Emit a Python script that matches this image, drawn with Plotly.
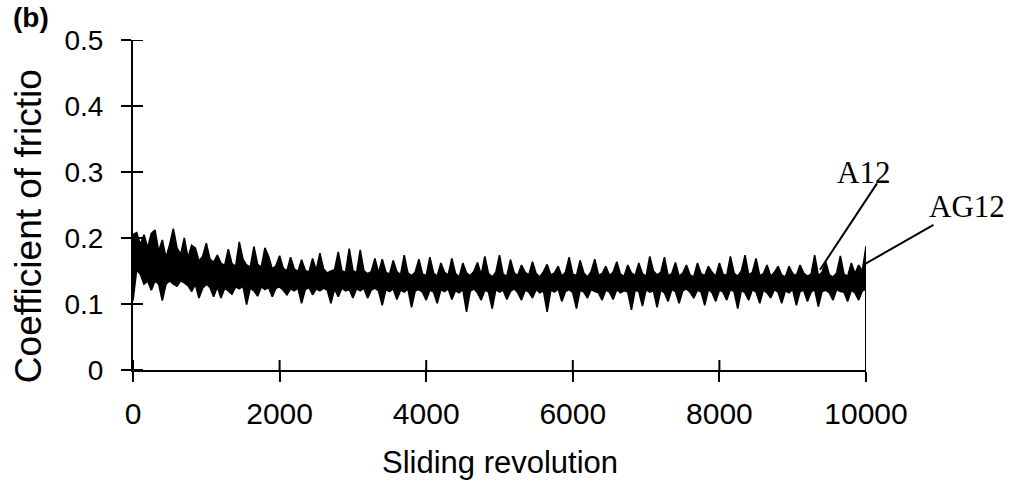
import plotly.graph_objects as go

# Sliding distance, sampled every 50 revolutions
revolutions = list(range(0, 10001, 50))

# Upper edge of the friction-coefficient band
cof_upper = [
    0.205, 0.208, 0.190, 0.205, 0.185, 0.207, 0.212, 0.180, 0.197, 0.170,
    0.190, 0.214, 0.185, 0.175, 0.200, 0.170, 0.189, 0.185, 0.165, 0.172,
    0.192, 0.168, 0.163, 0.174, 0.162, 0.158, 0.183, 0.161, 0.157, 0.194,
    0.168, 0.159, 0.156, 0.187, 0.160, 0.156, 0.185, 0.172, 0.153, 0.158,
    0.173, 0.154, 0.150, 0.171, 0.153, 0.149, 0.167, 0.151, 0.148, 0.169,
    0.151, 0.177, 0.153, 0.147, 0.150, 0.152, 0.179, 0.150, 0.148, 0.184,
    0.151, 0.147, 0.182, 0.150, 0.146, 0.149, 0.169, 0.147, 0.168, 0.148,
    0.145, 0.166, 0.149, 0.144, 0.174, 0.147, 0.143, 0.148, 0.168, 0.145,
    0.143, 0.171, 0.147, 0.142, 0.162, 0.148, 0.144, 0.169, 0.146, 0.141,
    0.162, 0.147, 0.143, 0.149, 0.163, 0.144, 0.172, 0.146, 0.141, 0.148,
    0.174, 0.145, 0.142, 0.167, 0.147, 0.143, 0.159, 0.148, 0.144, 0.164,
    0.146, 0.141, 0.149, 0.160, 0.144, 0.147, 0.157, 0.142, 0.148, 0.171,
    0.145, 0.143, 0.166, 0.147, 0.141, 0.149, 0.168, 0.144, 0.146, 0.157,
    0.143, 0.148, 0.164, 0.145, 0.142, 0.159, 0.147, 0.143, 0.162, 0.146,
    0.142, 0.172, 0.150, 0.144, 0.148, 0.171, 0.143, 0.146, 0.163, 0.142,
    0.147, 0.159, 0.144, 0.141, 0.162, 0.146, 0.143, 0.157, 0.148, 0.142,
    0.162, 0.145, 0.143, 0.172, 0.147, 0.142, 0.150, 0.174, 0.144, 0.148,
    0.169, 0.143, 0.146, 0.159, 0.142, 0.148, 0.157, 0.144, 0.141, 0.157,
    0.146, 0.143, 0.159, 0.147, 0.142, 0.145, 0.174, 0.143, 0.148, 0.164,
    0.144, 0.141, 0.147, 0.173, 0.145, 0.142, 0.162, 0.146, 0.159, 0.150,
    0.187,
]

# Lower edge of the friction-coefficient band
cof_lower = [
    0.105, 0.152, 0.145, 0.130, 0.135, 0.121, 0.135, 0.130, 0.105, 0.130,
    0.135, 0.130, 0.127, 0.135, 0.132, 0.128, 0.119, 0.130, 0.109, 0.124,
    0.130, 0.125, 0.111, 0.126, 0.109, 0.124, 0.120, 0.115, 0.126, 0.123,
    0.127, 0.099, 0.124, 0.120, 0.112, 0.126, 0.122, 0.125, 0.111, 0.124,
    0.126, 0.121, 0.114, 0.123, 0.120, 0.124, 0.101, 0.122, 0.125, 0.114,
    0.123, 0.120, 0.124, 0.121, 0.101, 0.123, 0.111, 0.124, 0.120, 0.122,
    0.109, 0.123, 0.120, 0.124, 0.109, 0.121, 0.124, 0.120, 0.098, 0.122,
    0.119, 0.123, 0.107, 0.121, 0.118, 0.123, 0.095, 0.120, 0.122, 0.118,
    0.106, 0.121, 0.118, 0.101, 0.122, 0.119, 0.123, 0.107, 0.120, 0.117,
    0.122, 0.088, 0.119, 0.123, 0.117, 0.106, 0.121, 0.118, 0.093, 0.122,
    0.118, 0.121, 0.107, 0.119, 0.123, 0.117, 0.106, 0.121, 0.118, 0.109,
    0.122, 0.117, 0.120, 0.088, 0.121, 0.118, 0.123, 0.104, 0.119, 0.122,
    0.117, 0.093, 0.121, 0.118, 0.109, 0.122, 0.119, 0.117, 0.106, 0.121,
    0.118, 0.107, 0.122, 0.117, 0.120, 0.118, 0.091, 0.121, 0.119, 0.097,
    0.122, 0.118, 0.120, 0.095, 0.121, 0.117, 0.104, 0.122, 0.119, 0.101,
    0.120, 0.123, 0.118, 0.109, 0.121, 0.118, 0.098, 0.122, 0.117, 0.104,
    0.121, 0.118, 0.106, 0.122, 0.119, 0.093, 0.121, 0.117, 0.106, 0.122,
    0.118, 0.101, 0.121, 0.117, 0.109, 0.122, 0.118, 0.101, 0.120, 0.117,
    0.122, 0.098, 0.119, 0.121, 0.104, 0.118, 0.122, 0.096, 0.119, 0.121,
    0.117, 0.106, 0.122, 0.119, 0.118, 0.104, 0.121, 0.117, 0.106, 0.120,
    0.122,
]

# Signal falling to zero when the test stops
end_revolution = [10000, 10000]
end_drop = [0.187, 0.0]

x_ticks = [0, 2000, 4000, 6000, 8000, 10000]
x_tick_text = ["0", "2000", "4000", "6000", "8000", "10000"]
y_ticks = [0, 0.1, 0.2, 0.3, 0.4, 0.5]
y_tick_text = ["0", "0.1", "0.2", "0.3", "0.4", "0.5"]

# Curve labels (paper position) and the leader lines to their curves
labels = ["A12", "AG12"]
label_pos = [(0.997, 0.597), (1.138, 0.494)]
leader_tail = [(10164, 0.285), (10941, 0.221)]
leader_head = [(9372, 0.152), (9959, 0.159)]

SANS = "Liberation Sans, Arial, sans-serif"
SERIF = "Liberation Serif, Times New Roman, serif"
INK = "black"
TICK_LEN = 10
X_RANGE = [0, 10000]
Y_RANGE = [0, 0.5]
MARGIN = dict(l=133, r=148, t=40, b=122)
WIDTH, HEIGHT = 1014, 492
PLOT_W = WIDTH - MARGIN["l"] - MARGIN["r"]
PLOT_H = HEIGHT - MARGIN["t"] - MARGIN["b"]

fig = go.Figure()

fig.add_trace(go.Scatter(
    x=revolutions, y=cof_lower, mode="lines",
    line=dict(color=INK, width=1.6), hoverinfo="skip", showlegend=False,
))
fig.add_trace(go.Scatter(
    x=revolutions, y=cof_upper, mode="lines", fill="tonexty",
    fillcolor=INK, line=dict(color=INK, width=1.6),
    hoverinfo="skip", showlegend=False,
))
fig.add_trace(go.Scatter(
    x=end_revolution, y=end_drop, mode="lines",
    line=dict(color=INK, width=2), hoverinfo="skip", showlegend=False,
))

# Inner halves of the cross-shaped tick marks, in axis units
x_in = (Y_RANGE[1] - Y_RANGE[0]) * TICK_LEN / PLOT_H
y_in = (X_RANGE[1] - X_RANGE[0]) * TICK_LEN / PLOT_W
tx, ty = [], []
for v in x_ticks:
    tx += [v, v, None]
    ty += [Y_RANGE[0], Y_RANGE[0] + x_in, None]
for v in y_ticks:
    tx += [X_RANGE[0], X_RANGE[0] + y_in, None]
    ty += [v, v, None]
fig.add_trace(go.Scatter(
    x=tx, y=ty, mode="lines", line=dict(color=INK, width=2),
    cliponaxis=False, hoverinfo="skip", showlegend=False,
))

axis_common = dict(
    showgrid=False, zeroline=False, linecolor=INK, linewidth=2,
    tickcolor=INK, tickwidth=2, ticklen=TICK_LEN, ticks="outside",
    showline=True,
)

fig.update_layout(
    width=WIDTH, height=HEIGHT, margin=MARGIN,
    paper_bgcolor="white", plot_bgcolor="white",
    xaxis=dict(
        range=X_RANGE, tickvals=x_ticks, ticktext=x_tick_text,
        tickfont=dict(family=SANS, size=30, color=INK),
        ticklabelstandoff=6, **axis_common,
    ),
    yaxis=dict(
        range=Y_RANGE, tickvals=y_ticks, ticktext=y_tick_text,
        tickfont=dict(family=SANS, size=28, color=INK),
        ticklabelstandoff=12, **axis_common,
    ),
)

annotations = [
    dict(text="Sliding revolution", xref="paper", yref="paper",
         x=0.5, y=-0.279, xanchor="center", yanchor="middle", showarrow=False,
         font=dict(family=SANS, size=31, color=INK)),
    dict(text="Coefficient of frictio", xref="paper", yref="paper",
         x=-0.1432, y=0.436, xanchor="center", yanchor="middle",
         textangle=-90, showarrow=False,
         font=dict(family=SANS, size=37, color=INK)),
    dict(text="<b>(b)</b>", xref="paper", yref="paper",
         x=-0.139, y=1.068, xanchor="center", yanchor="middle",
         showarrow=False, font=dict(family=SANS, size=28, color=INK)),
]
for text, (lx, ly) in zip(labels, label_pos):
    annotations.append(dict(
        text=text, xref="paper", yref="paper", x=lx, y=ly,
        xanchor="center", yanchor="middle", showarrow=False,
        font=dict(family=SERIF, size=31, color=INK),
    ))
for (hx0, hy0), (hx, hy) in zip(leader_tail, leader_head):
    annotations.append(dict(
        text="", xref="x", yref="y", x=hx, y=hy,
        axref="x", ayref="y", ax=hx0, ay=hy0,
        showarrow=True, arrowhead=0, arrowwidth=2, arrowcolor=INK,
    ))
fig.update_layout(annotations=annotations)

fig.write_html("out.html")
